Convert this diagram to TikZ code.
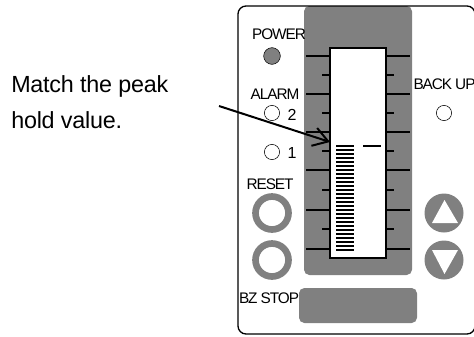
\documentclass[tikz,border=0pt]{standalone}
\usepackage{fontspec}
\setmainfont{Liberation Sans}
\newfontfamily\tightfont[LetterSpace=-7]{Liberation Sans}
\newfontfamily\noteface[LetterSpace=-1]{Liberation Sans}
\usetikzlibrary{calc,arrows,arrows.meta}
\definecolor{panelgray}{gray}{0.5}
\tikzset{
  lamp/.style={circle,draw,minimum size=11.4pt,inner sep=0pt},
  lbl/.style={inner sep=0pt,font=\tightfont\fontsize{11.5}{11.5}\selectfont},
  num/.style={inner sep=0pt,font=\fontsize{12}{12}\selectfont},
  note/.style={anchor=base west,inner sep=0pt,font=\noteface\fontsize{17.5}{17.5}\selectfont},
  ringbtn/.style={circle,draw=panelgray,line width=5pt,fill=white,minimum size=24.75pt,inner sep=0pt},
  arrowbtn/.style={circle,fill=panelgray,minimum size=29.25pt,inner sep=0pt},
}
\begin{document}
\begin{tikzpicture}[x=1pt,y=-1pt,scale=0.75]
      \useasboundingbox (0, 0) rectangle (474, 336);
      \fill[panelgray, rounded corners=4] (304, 6) rectangle (412, 275);
      \fill[panelgray, rounded corners=4] (299, 288) rectangle (417, 323);
      \draw[line width=1pt, rounded corners=6] (238, 6) rectangle (475, 334);
      \fill[white, draw=black, line width=1.3pt] (330, 48) rectangle (386, 258);
      % ticks
      \foreach \y in {56, 94, 132, 170, 210, 249}
        {\draw[line width=1pt] (306, \y) -- (330, \y);
         \draw[line width=1pt] (386, \y) -- (410, \y);}
      \foreach \y in {75, 113, 151, 190, 229}
        {\draw[line width=1pt] (322, \y) -- (330, \y);
         \draw[line width=1pt] (386, \y) -- (394, \y);}
      % bars
      \foreach \i in {0, ..., 26}
        \fill (336, 145.2 + 4*\i) rectangle (354, 147.2 + 4*\i);
      \draw[line width=1.3pt] (363, 146) -- (381, 146);
      % leds
      \node[circle, draw, fill=panelgray, minimum size=12.5pt, inner sep=0pt] (power) at (272, 56) {};
      \node[lamp] (alarmtwo) at (272, 113) {};
      \node[lamp] (alarmone) at (272, 152) {};
      \node[lamp] (backup) at (444, 113) {};
      \node[lbl] (powerlbl) at (279, 34) {POWER};
      \node[lbl] (alarmlbl) at (275, 94) {ALARM};
      \node[num] (alarmtwolbl) at (292, 115) {2};
      \node[num] (alarmonelbl) at (292, 153) {1};
      \node[lbl] (backuplbl) at (444.5, 84) {BACK UP};
      \node[lbl] (resetlbl) at (270, 184) {RESET};
      \node[lbl] (bzstop) at (269, 298) {BZ STOP};
      % buttons
      \node[ringbtn] (reset) at (272, 213) {};
      \node[ringbtn] (bz) at (272, 260) {};
      \node[arrowbtn] (up) at (444, 213) {};
      \node[arrowbtn] (down) at (444, 260) {};
      \fill[white] (432, 223) -- (444.5, 200) -- (458, 223) -- cycle;
      \fill[white] (432, 250) -- (444.5, 274) -- (458, 250) -- cycle;
      % text
      \node[note] (peaklineone) at (11, 92) {Match the peak};
      \node[note] (peaklinetwo) at (11, 128) {hold value.};
      \coordinate (arrowstart) at (219, 106);
      \coordinate (arrowend) at (330, 142);
      \draw[-{Straight Barb[length=11pt,width=14pt]}, line width=1.5pt] (arrowstart) -- (arrowend);
    \end{tikzpicture}
\end{document}
